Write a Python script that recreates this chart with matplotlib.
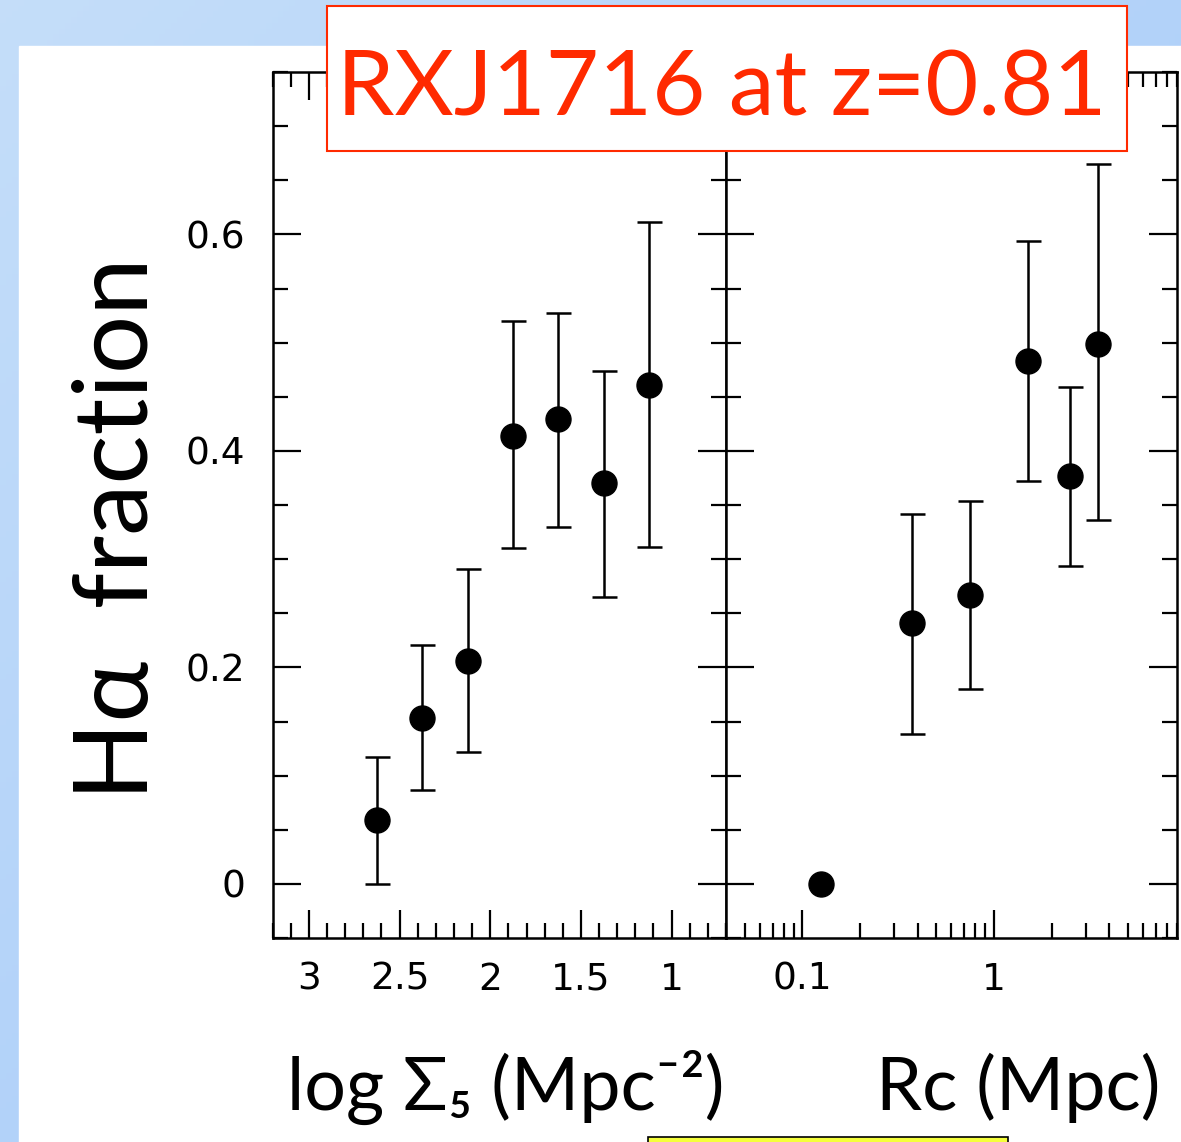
import numpy as np
import matplotlib.pyplot as plt
from matplotlib.patches import Rectangle
from matplotlib.ticker import MultipleLocator, LogLocator, FuncFormatter, NullFormatter

# left panel: H-alpha fraction vs local density (log Sigma_5)
sigma5 = [2.625, 2.375, 2.125, 1.875, 1.625, 1.375, 1.125]
frac_s = [0.059, 0.153, 0.206, 0.414, 0.429, 0.370, 0.461]
lo_s = [0.000, 0.087, 0.122, 0.310, 0.330, 0.265, 0.311]
hi_s = [0.117, 0.221, 0.291, 0.520, 0.527, 0.474, 0.611]

# right panel: H-alpha fraction vs cluster-centric radius
rc = [0.125, 0.375, 0.75, 1.5, 2.5, 3.5]
frac_r = [0.000, 0.241, 0.267, 0.483, 0.377, 0.499]
lo_r = [np.nan, 0.138, 0.180, 0.372, 0.294, 0.336]
hi_r = [np.nan, 0.342, 0.354, 0.594, 0.459, 0.665]

title = "RXJ1716 at z=0.81"
red = "#ff2a00"

W, H = 1181, 1142
fig = plt.figure(figsize=(W / 100, H / 100), dpi=100)

# fondo tipo diapositiva
bg = fig.add_axes([0, 0, 1, 1], zorder=-10)
gy, gx = np.mgrid[0:1:200j, 0:1:200j]
t = (gx + gy) / 2
c0 = np.array([0.77, 0.87, 0.98])
c1 = np.array([0.63, 0.78, 0.98])
bg.imshow(c0 + (c1 - c0) * t[..., None], extent=[0, 1, 0, 1], aspect='auto', origin='upper')
bg.add_patch(Rectangle((19 / W, 0), 1, 1 - 46 / H, color='white'))
bg.set_xlim(0, 1)
bg.set_ylim(0, 1)
bg.axis('off')

bottom = 1 - 938 / H
height = 866 / H
ax1 = fig.add_axes([272.7 / W, bottom, 453.3 / W, height])
ax2 = fig.add_axes([726 / W, bottom, 451 / W, height], sharey=ax1)

eb = dict(fmt='o', color='black', ms=18, elinewidth=1.8, capsize=9, capthick=1.8)
ax1.errorbar(sigma5, frac_s,
             yerr=[np.subtract(frac_s, lo_s), np.subtract(hi_s, frac_s)], **eb)
ax2.errorbar(rc, frac_r,
             yerr=[np.subtract(frac_r, lo_r), np.subtract(hi_r, frac_r)], **eb)

ax1.set_xlim(3.2, 0.7)
ax1.xaxis.set_major_locator(MultipleLocator(0.5))
ax1.xaxis.set_minor_locator(MultipleLocator(0.1))
ax1.xaxis.set_major_formatter(FuncFormatter(lambda v, _: f'{v:g}'))

ax2.set_xscale('log')
ax2.set_xlim(0.04, 9)
ax2.xaxis.set_major_locator(LogLocator(base=10))
ax2.xaxis.set_minor_locator(LogLocator(base=10, subs=np.arange(2, 10)))
ax2.xaxis.set_major_formatter(FuncFormatter(lambda v, _: f'{v:g}'))
ax2.xaxis.set_minor_formatter(NullFormatter())

ax1.set_ylim(-0.05, 0.75)
ax1.yaxis.set_major_locator(MultipleLocator(0.2))
ax1.yaxis.set_minor_locator(MultipleLocator(0.05))
ax1.yaxis.set_major_formatter(FuncFormatter(lambda v, _: f'{v:g}'))

for ax in (ax1, ax2):
    ax.tick_params(which='both', direction='in', top=True, right=True,
                   width=1.6, labelsize=27)
    ax.tick_params(which='major', length=20)
    ax.tick_params(which='minor', length=10.5)
    ax.tick_params(axis='x', pad=17)
    ax.tick_params(axis='y', pad=20)
    for s in ax.spines.values():
        s.set_linewidth(1.8)
ax2.tick_params(labelleft=False)

# recuadro del titulo
fig.patches.append(Rectangle((327 / W, 1 - 151 / H), 800 / W, 145 / H,
                             transform=fig.transFigure, facecolor='white',
                             edgecolor=red, lw=1.5))
fig.text(722 / W, 1 - 115 / H, title, color=red, fontsize=66, family='Lato',
         ha='center', va='baseline')

fig.text(148 / W, 1 - 800 / H, 'H\u03b1  fraction', rotation=90, rotation_mode='anchor',
         ha='left', va='baseline', fontsize=74, family=['Lato', 'DejaVu Sans'])
fig.text(506 / W, 1 - 1110 / H, 'log \u03a3\u2085 (Mpc\u207b\u00b2)', ha='center', va='baseline',
         fontsize=53, family=['Lato', 'DejaVu Sans'])
fig.text(1018 / W, 1 - 1110 / H, 'Rc (Mpc)', ha='center', va='baseline',
         fontsize=53, family=['Lato', 'DejaVu Sans'])

# caja amarilla cortada abajo
fig.patches.append(Rectangle((648 / W, -0.01), 360 / W, 0.01 + 5 / H,
                             transform=fig.transFigure, facecolor='#f5ff3c',
                             edgecolor='black', lw=1.2))

fig.savefig('out.png', dpi=100)
